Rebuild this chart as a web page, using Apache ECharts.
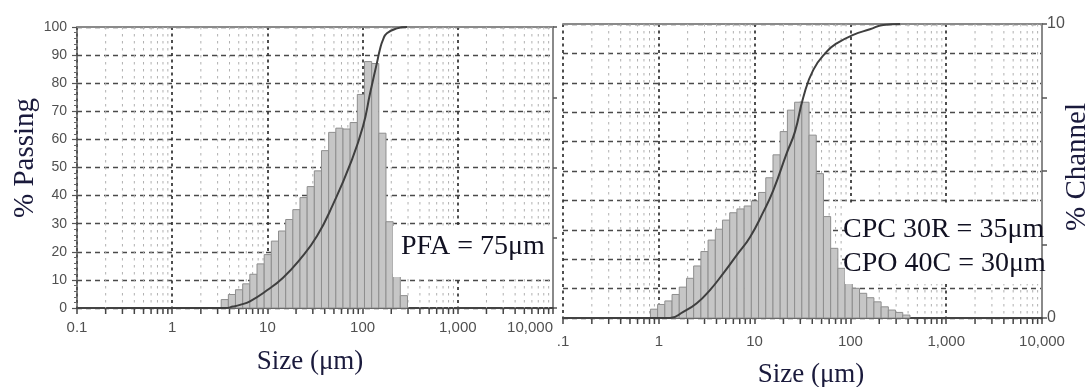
<!DOCTYPE html>
<html><head><meta charset="utf-8">
<script src="https://cdn.jsdelivr.net/npm/echarts@6/dist/echarts.min.js"></script>
<style>html,body{margin:0;padding:0;background:#fff}#c{width:1091px;height:387px}</style>
</head><body><div id="c"></div>
<script>
// ---- tick labels ----
const xTickLabelsLeft = ['0.1', '1', '10', '100', '1,000', '10,000'];
const xTickLabelsRight = ['.1', '1', '10', '100', '1,000', '10,000'];
const channelTickLabels = { 0: '0', 10: '10' };
const minorMultipliers = [2, 3, 4, 5, 6, 7, 8, 9];
const decadeStarts = [0.1, 1, 10, 100, 1000];

// ---- PFA (left panel) ----
const pfaEdges = [3.27, 3.89, 4.62, 5.50, 6.54, 7.78, 9.25, 11.00, 13.08, 15.56, 18.50, 22.00, 26.16, 31.11, 37.00, 44.00, 52.33, 62.23, 74.00, 88.00, 104.7, 124.5, 148.0, 176.0, 209.3, 248.9, 296.0];
const pfaChannel = [0.30, 0.48, 0.65, 0.86, 1.20, 1.57, 1.90, 2.38, 2.74, 3.15, 3.50, 3.93, 4.32, 4.88, 5.60, 6.25, 6.40, 6.37, 6.60, 7.60, 8.77, 8.70, 6.22, 3.07, 1.22, 0.44];
const pfaPassingSize = [0.283, 3.6, 4.36, 5.15, 6.56, 9.9, 14.6, 22, 33.2, 48.9, 73.7, 101, 120, 142, 152, 164, 180, 230, 293];
const pfaPassingPct = [0, 0, 0.5, 1.1, 2.4, 6.3, 10.8, 17.3, 25.6, 36.9, 51, 64.7, 76.5, 87.5, 92, 95.5, 97.8, 99.5, 100];

// ---- CPC 30R / CPO 40C (right panel) ----
const cpcEdges = [0.818, 0.972, 1.156, 1.375, 1.635, 1.945, 2.312, 2.750, 3.27, 3.89, 4.62, 5.50, 6.54, 7.78, 9.25, 11.00, 13.08, 15.56, 18.50, 22.00, 26.16, 31.11, 37.00, 44.00, 52.33, 62.23, 74.00, 88.00, 104.7, 124.5, 148.0, 176.0, 209.3, 248.9, 296.0, 352.0, 418.6];
const cpcChannel = [0.30, 0.46, 0.58, 0.80, 1.05, 1.35, 1.77, 2.26, 2.65, 3.02, 3.33, 3.58, 3.71, 3.81, 3.98, 4.27, 4.77, 5.55, 6.34, 7.07, 7.34, 7.34, 6.22, 4.91, 3.45, 2.37, 1.69, 1.24, 1.01, 0.84, 0.69, 0.55, 0.38, 0.27, 0.19, 0.10];
const cpcPassingSize = [0.297, 1.31, 1.8, 2.49, 3.42, 4.71, 6.51, 8.95, 12.3, 15.7, 21.6, 26.4, 32.2, 41, 56.6, 71.9, 107, 160, 220, 330];
const cpcPassingPct = [0, 0, 2.1, 5.0, 9.5, 15.2, 21.4, 27.5, 36, 43.5, 56, 63.4, 75, 84.4, 90.6, 93.4, 96.3, 98.2, 99.7, 100];

const minorTickValues = [];
decadeStarts.forEach(d => minorMultipliers.forEach(m => minorTickValues.push(d * m)));

const SANS = '"Liberation Sans", Arial, sans-serif';
const SERIF = '"Liberation Serif", "Times New Roman", serif';

function logLabel(labels) {
  return v => labels[Math.round(Math.log10(v)) + 1] || '';
}

function bottomAxis(gridIndex, labels, margin, alignMax) {
  return {
    type: 'log', logBase: 10, min: 0.1, max: 10000, gridIndex, position: 'bottom',
    axisLine: { show: true, lineStyle: { color: '#444', width: 2 } },
    axisTick: { show: true, length: 6, inside: false, lineStyle: { color: '#444', width: 1.5 } },
    axisLabel: { formatter: logLabel(labels), fontSize: 15, color: '#505050', fontFamily: SANS, margin, alignMaxLabel: alignMax },
    splitLine: { show: true, lineStyle: { type: [3, 3.5], color: '#303030', width: 1.7 } },
    minorTick: { show: false }, minorSplitLine: { show: false }
  };
}
function topAxis(gridIndex) {
  return {
    type: 'log', logBase: 10, min: 0.1, max: 10000, gridIndex, position: 'top',
    axisLine: { show: true, onZero: false, lineStyle: { color: '#8a8a8a', width: 2 } },
    axisTick: { show: false }, axisLabel: { show: false }, splitLine: { show: false }
  };
}

function minorGridSeries(xi, yi) {
  return {
    type: 'custom', xAxisIndex: xi, yAxisIndex: yi, z: 1, silent: true,
    data: minorTickValues.map(v => [v]),
    encode: { x: 0 },
    renderItem: (params, api) => {
      const v = api.value(0);
      const t = api.coord([v, 100]);
      const b = api.coord([v, 0]);
      return {
        type: 'group', children: [
          { type: 'line', shape: { x1: t[0], y1: t[1], x2: b[0], y2: b[1] }, style: { stroke: '#b0b0b0', lineWidth: 1, lineDash: [2.5, 4.5] } },
          { type: 'line', shape: { x1: b[0], y1: b[1], x2: b[0], y2: b[1] + 6 }, style: { stroke: '#444', lineWidth: 1.5 } }
        ]
      };
    }
  };
}

function barSeries(xi, yi, edges, vals) {
  return {
    type: 'custom', xAxisIndex: xi, yAxisIndex: yi, z: 2, silent: true,
    data: vals.map((v, i) => [edges[i], edges[i + 1], v]),
    encode: { x: [0, 1], y: 2 },
    renderItem: (params, api) => {
      const a = api.coord([api.value(0), 0]);
      const b = api.coord([api.value(1), api.value(2)]);
      return {
        type: 'rect',
        shape: { x: a[0], y: b[1], width: b[0] - a[0], height: a[1] - b[1] },
        style: { fill: '#c6c6c6', stroke: '#8e8e8e', lineWidth: 1 }
      };
    }
  };
}

function curveSeries(xi, yi, sizes, pcts) {
  return {
    type: 'line', xAxisIndex: xi, yAxisIndex: yi, z: 3, silent: true,
    data: sizes.map((s, i) => [s, pcts[i]]),
    smooth: 0.5, symbol: 'none',
    lineStyle: { color: '#3f3f3f', width: 2 }
  };
}

const chart = echarts.init(document.getElementById('c'), null, { renderer: 'canvas' });
chart.setOption({
  backgroundColor: '#fff',
  animation: false,
  grid: [
    { left: 77, top: 27, width: 476, height: 281 },
    { left: 563, top: 24, width: 479, height: 294 }
  ],
  xAxis: [
    bottomAxis(0, xTickLabelsLeft, 12, 'right'), topAxis(0),
    bottomAxis(1, xTickLabelsRight, 16, null), topAxis(1)
  ],
  yAxis: [
    {
      type: 'value', gridIndex: 0, min: 0, max: 100, interval: 10, position: 'left',
      axisLine: { show: true, onZero: false, lineStyle: { color: '#555', width: 1.5 } },
      axisTick: { show: true, length: 5, lineStyle: { color: '#555', width: 1.2 } },
      minorTick: { show: true, splitNumber: 5, length: 3, lineStyle: { color: '#666' } },
      axisLabel: { fontSize: 14, color: '#505050', fontFamily: SANS, margin: 10 },
      splitLine: { show: true, lineStyle: { type: [5, 4], color: '#4a4a4a', width: 1.3 } }
    },
    {
      type: 'value', gridIndex: 0, min: 0, max: 10, interval: 2.5, position: 'right',
      axisLine: { show: true, onZero: false, lineStyle: { color: '#8a8a8a', width: 2 } },
      axisTick: { show: true, length: 4, lineStyle: { color: '#555', width: 1.5 } },
      axisLabel: { show: false }, splitLine: { show: false }
    },
    {
      type: 'value', gridIndex: 1, min: 0, max: 100, interval: 10, position: 'left',
      axisLine: { show: false }, axisTick: { show: false }, axisLabel: { show: false },
      splitLine: { show: true, lineStyle: { type: [5, 4], color: '#4a4a4a', width: 1.3 } }
    },
    {
      type: 'value', gridIndex: 1, min: 0, max: 10, interval: 2.5, position: 'right',
      axisLine: { show: true, onZero: false, lineStyle: { color: '#8a8a8a', width: 2 } },
      axisTick: { show: true, length: 5, lineStyle: { color: '#555', width: 1.5 } },
      axisLabel: { formatter: v => channelTickLabels[v] || '', fontSize: 16, color: '#505050', fontFamily: SANS, margin: 5 },
      splitLine: { show: false }
    }
  ],
  series: [
    minorGridSeries(0, 0),
    barSeries(0, 1, pfaEdges, pfaChannel),
    curveSeries(0, 0, pfaPassingSize, pfaPassingPct),
    minorGridSeries(2, 2),
    barSeries(2, 3, cpcEdges, cpcChannel),
    curveSeries(2, 2, cpcPassingSize, cpcPassingPct)
  ],
  graphic: { elements: [
    { type: 'rect', z: 50, shape: { x: 393, y: 226, width: 159, height: 51 }, style: { fill: '#fff' } },
    { type: 'text', z: 51, x: 401, y: 247, style: { text: 'PFA = 75μm', font: '28px ' + SERIF, fill: '#111122', verticalAlign: 'middle', align: 'left' } },
    { type: 'rect', z: 50, shape: { x: 845, y: 204, width: 196, height: 80 }, style: { fill: '#fff' } },
    { type: 'text', z: 51, x: 843, y: 230, style: { text: 'CPC 30R = 35μm', font: '28px ' + SERIF, fill: '#111122', verticalAlign: 'middle', align: 'left' } },
    { type: 'text', z: 51, x: 843, y: 264, style: { text: 'CPO 40C = 30μm', font: '28px ' + SERIF, fill: '#111122', verticalAlign: 'middle', align: 'left' } },
    { type: 'text', z: 51, x: 25, y: 158, rotation: Math.PI / 2, style: { text: '% Passing', font: '29px ' + SERIF, fill: '#1a1a3c', verticalAlign: 'middle', align: 'center' } },
    { type: 'text', z: 51, x: 1077, y: 167, rotation: Math.PI / 2, style: { text: '% Channel', font: '29px ' + SERIF, fill: '#1a1a3c', verticalAlign: 'middle', align: 'center' } },
    { type: 'text', z: 51, x: 310, y: 362, style: { text: 'Size (μm)', font: '27px ' + SERIF, fill: '#1a1a3c', verticalAlign: 'middle', align: 'center' } },
    { type: 'text', z: 51, x: 811, y: 375, style: { text: 'Size (μm)', font: '27px ' + SERIF, fill: '#1a1a3c', verticalAlign: 'middle', align: 'center' } }
  ] }
});
</script>
</body></html>
